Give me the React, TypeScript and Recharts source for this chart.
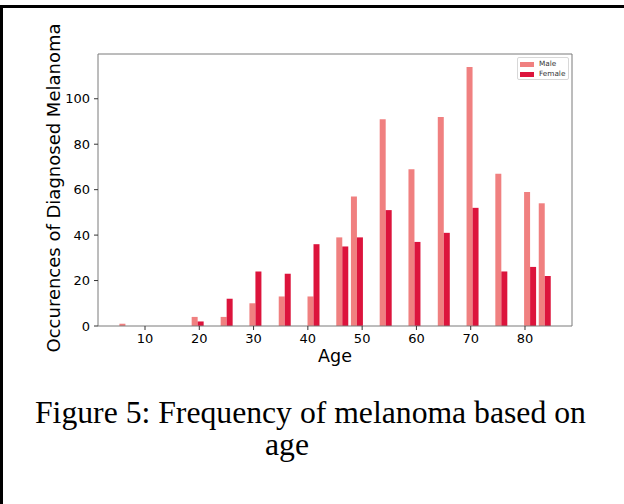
import { BarChart, Bar, XAxis, YAxis, Label, ReferenceLine } from 'recharts';

// bin positions (age) and counts
const ages = [6.45, 19.76, 25.1, 30.4, 35.8, 41.1, 46.4, 49.1, 54.4, 59.7, 65.1, 70.4, 75.7, 81.0, 83.7];
const male = [1, 4, 4, 10, 13, 13, 39, 57, 91, 69, 92, 114, 67, 59, 54];
const female = [0, 2, 12, 24, 23, 36, 35, 39, 51, 37, 41, 52, 24, 26, 22];
const xTicks = [10, 20, 30, 40, 50, 60, 70, 80];
const yTicks = [0, 20, 40, 60, 80, 100];
const xDomain: [number, number] = [1.34, 88.66];
const yDomain: [number, number] = [0, 119.7];

const MALE_COLOR = '#f08080';
const FEMALE_COLOR = '#dc143c';
const SPINE = '#7a7a7a';
const FONT = '"DejaVu Sans", sans-serif';
const SERIF = '"Liberation Serif", "Times New Roman", serif';

const data = ages.map((age, i) => ({ age, male: male[i], female: female[i] }));

function LegendBox() {
  const rows = [
    { label: 'Male', color: MALE_COLOR },
    { label: 'Female', color: FEMALE_COLOR },
  ];
  return (
    <div
      style={{
        position: 'absolute',
        left: 517,
        top: 57,
        width: 52,
        height: 23,
        border: '1px solid #d8d8d8',
        borderRadius: 2,
        background: '#fff',
        fontFamily: FONT,
        fontSize: 7.3,
        lineHeight: '10px',
        color: '#333',
        padding: '1px 0 0 2px',
        boxSizing: 'border-box',
      }}
    >
      {rows.map((r) => (
        <div key={r.label} style={{ display: 'flex', alignItems: 'center', height: 10 }}>
          <span style={{ width: 14, height: 5, background: r.color, display: 'inline-block', marginRight: 5 }} />
          <span>{r.label}</span>
        </div>
      ))}
    </div>
  );
}

function YLabel(props: any) {
  const { viewBox } = props;
  const cx = viewBox.x + viewBox.width - 45;
  const cy = viewBox.y + viewBox.height / 2 - 2;
  return (
    <text
      x={cx}
      y={cy}
      transform={`rotate(-90, ${cx}, ${cy})`}
      textAnchor="middle"
      dominantBaseline="central"
      fontFamily={FONT}
      fontSize={18}
      fill="#000"
    >
      Occurences of Diagnosed Melanoma
    </text>
  );
}

function XLabel(props: any) {
  const { viewBox } = props;
  return (
    <text
      x={viewBox.x + viewBox.width / 2}
      y={viewBox.y + 36}
      textAnchor="middle"
      fontFamily={FONT}
      fontSize={17.5}
      fill="#000"
    >
      Age
    </text>
  );
}

export default function App() {
  const tickStyle = { fill: '#000', fontSize: 13, fontFamily: FONT };
  return (
    <div
      style={{
        position: 'absolute',
        left: 0,
        top: 0,
        width: 624,
        height: 504,
        background: '#fff',
        overflow: 'hidden',
      }}
    >
      <div
        style={{
          position: 'absolute',
          left: 0,
          top: 5,
          width: 624,
          height: 499,
          borderTop: '3px solid #000',
          borderLeft: '3px solid #000',
          boxSizing: 'border-box',
        }}
      />
      <div style={{ position: 'absolute', left: 0, top: 0 }}>
        <BarChart
          width={624}
          height={504}
          data={data}
          margin={{ top: 54, right: 52, bottom: 0, left: 38 }}
          barGap={0}
          barSize={6}
        >
          <XAxis
            dataKey="age"
            type="number"
            domain={xDomain}
            ticks={xTicks}
            allowDataOverflow
            height={178}
            stroke={SPINE}
            tickSize={4}
            tickMargin={4}
            tick={tickStyle}
            tickLine={{ stroke: '#333' }}
          >
            <Label content={<XLabel />} />
          </XAxis>
          <YAxis
            type="number"
            domain={yDomain}
            ticks={yTicks}
            allowDataOverflow
            width={60}
            stroke={SPINE}
            tickSize={4}
            tickMargin={4}
            tick={tickStyle}
            tickLine={{ stroke: '#333' }}
          >
            <Label content={<YLabel />} />
          </YAxis>
          <ReferenceLine y={yDomain[1]} stroke={SPINE} />
          <ReferenceLine x={xDomain[1]} stroke={SPINE} />
          <Bar dataKey="male" name="Male" fill={MALE_COLOR} isAnimationActive={false} />
          <Bar dataKey="female" name="Female" fill={FEMALE_COLOR} isAnimationActive={false} />
        </BarChart>
      </div>
      <LegendBox />
      <div
        style={{
          position: 'absolute',
          left: 35,
          top: 397,
          fontFamily: SERIF,
          fontSize: 31.7,
          lineHeight: '32px',
          whiteSpace: 'nowrap',
          color: '#000',
        }}
      >
        Figure 5: Frequency of melanoma based on
      </div>
      <div
        style={{
          position: 'absolute',
          left: 265,
          top: 429,
          fontFamily: SERIF,
          fontSize: 31.7,
          lineHeight: '32px',
          whiteSpace: 'nowrap',
          color: '#000',
        }}
      >
        age
      </div>
    </div>
  );
}
